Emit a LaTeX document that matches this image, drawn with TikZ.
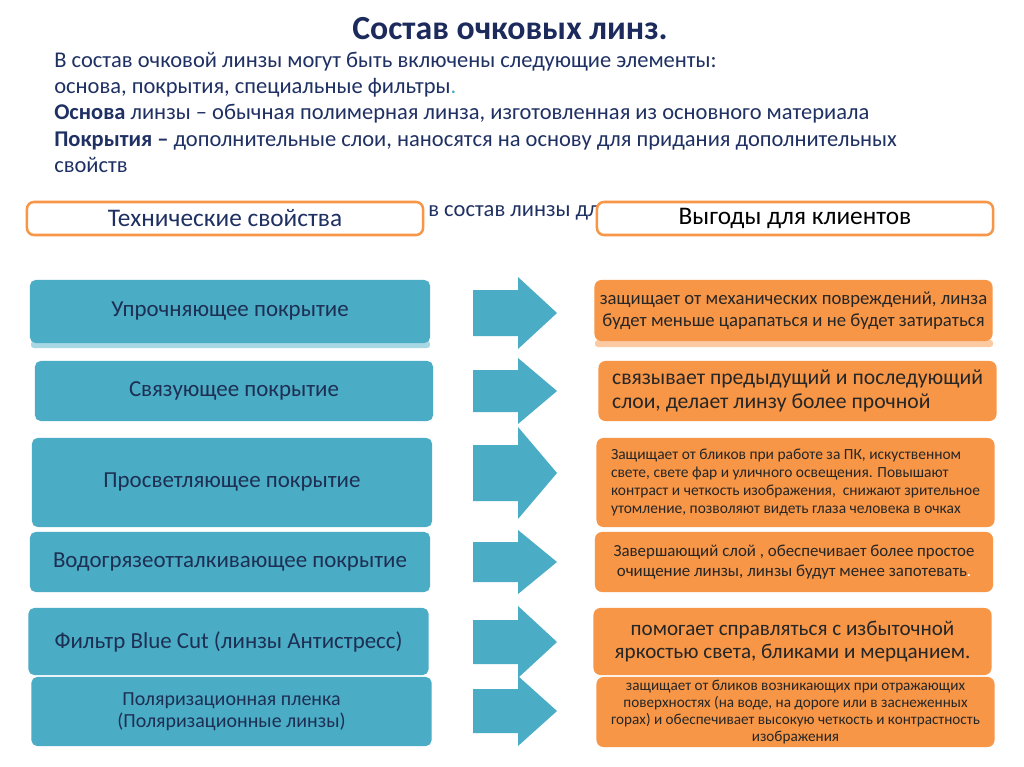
\documentclass[tikz,border=0pt]{standalone}
\usepackage{fontspec}
\setmainfont{Carlito}
\usetikzlibrary{positioning}
\definecolor{lensblue}{HTML}{4BACC6}
\definecolor{lensblueLt}{HTML}{A9D8E5}
\definecolor{lensorange}{HTML}{F79646}
\definecolor{lensorangeLt}{HTML}{FBC9A2}
\definecolor{titlenavy}{HTML}{1C2A5C}
\definecolor{textnavy}{HTML}{1F3063}
\definecolor{boxnavy}{HTML}{1D2F52}
\definecolor{gaintext}{HTML}{262626}
\newcommand{\fs}[2]{\fontsize{#1}{#2}\selectfont}

\begin{document}
\begin{tikzpicture}[
  x=0.025cm,y=-0.025cm,
  tech/.style={fill=lensblue,rounded corners=4pt,inner sep=2pt,align=center,
    text=boxnavy,minimum width=10cm,font=\fs{16.3}{19}},
  gain/.style={fill=lensorange,rounded corners=5pt,inner sep=2pt,align=center,
    text=gaintext,minimum width=9.95cm},
  hdr/.style={draw=lensorange,line width=1.8pt,fill=white,rounded corners=5pt,
    minimum width=9.9cm,minimum height=0.825cm,font=\fs{18}{20}},
  line/.style={anchor=base west,inner sep=0pt,text=textnavy,font=\fs{16}{18}}
]
\useasboundingbox[fill=white] (0,0) rectangle (1024,767);
%% --- title and intro text ---
\node[font=\bfseries\fs{24}{27},text=titlenavy] (title) at (510,29) {Состав очковых линз.};
\node[line] (l1) at (54,68) {В состав очковой линзы могут быть включены следующие элементы:};
\node[line] (l2) at (54,94) {основа, покрытия, специальные фильтры{\color{lensblue}.}};
\node[line] (l3) at (54,120) {\textbf{Основа} линзы – обычная полимерная линза, изготовленная из основного материала};
\node[line] (l4) at (54,147) {\textbf{Покрытия –} дополнительные слои, наносятся на основу для придания дополнительных};
\node[line] (l5) at (54,173) {свойств};
\node[line] (l6) at (428,217) {в состав линзы дл};
%% --- column headers ---
\node[hdr,text=textnavy] (htech) at (225,218.5) {Технические свойства};
\node[hdr,text=black] (hgain) at (795,218.5) {Выгоды для клиентов};
%% --- thin edges under the first row ---
\fill[lensblueLt,rounded corners=2pt] (31,341) rectangle (430,348);
\fill[lensorangeLt,rounded corners=2pt] (595,340) rectangle (993,347);
%% --- left column: coatings ---
\node[tech,minimum height=1.575cm] (t1) at (230,311.5) {Упрочняющее покрытие};
\node[tech,minimum width=9.95cm,minimum height=1.5cm] (t2) at (234,391) {Связующее покрытие};
\node[tech,minimum height=2.225cm] (t3) at (232,482.5) {Просветляющее покрытие};
\node[tech,minimum height=1.5cm] (t4) at (230,562) {Водогрязеотталкивающее покрытие};
\node[tech,minimum height=1.675cm] (t5) at (228.5,641.5) {Фильтр Blue Cut (линзы Антистресс)};
\node[tech,minimum height=1.725cm,font=\fs{14.2}{16}] (t6) at (231.5,711.5)
  {Поляризационная пленка\\(Поляризационные линзы)};
%% --- block arrows ---
\foreach \yc/\hb/\hh in {313/23/36,391/21/33,473/28/46,562/20/32,642/22/36,711/22/35}
  \fill[lensblue] (473,{\yc-\hb}) -- (518,{\yc-\hb}) -- (518,{\yc-\hh}) -- (557,\yc)
    -- (518,{\yc+\hh}) -- (518,{\yc+\hb}) -- (473,{\yc+\hb}) -- cycle;
%% --- right column: benefits ---
\node[gain,minimum height=1.525cm,font=\fs{13.3}{15.6}] (g1) at (793.5,310.5)
  {защищает от механических повреждений, линза\\будет меньше царапаться и не будет затираться};
\node[gain,minimum height=1.5cm,align=left,font=\fs{15.4}{16.5}] (g2) at (797.5,391)
  { связывает предыдущий и последующий\\слои, делает линзу более прочной};
\node[gain,minimum height=2.225cm,align=left,font=\fs{11}{12.6}] (g3) at (795.5,482.5)
  {Защищает от бликов при работе за ПК, искуственном\\свете, свете фар и уличного освещения. Повышают\\контраст и четкость изображения,\ \ снижают зрительное\\утомление, позволяют видеть глаза человека в очках};
\node[gain,minimum height=1.5cm,font=\fs{12}{14.2}] (g4) at (794,562)
  {Завершающий слой , обеспечивает более простое\\очищение линзы, линзы будут менее запотевать{\color{white}.}};
\node[gain,minimum height=1.675cm,font=\fs{15}{17}] (g5) at (792.5,641.5)
  {помогает справляться с избыточной\\яркостью света, бликами и мерцанием.};
\node[gain,minimum height=1.75cm,font=\fs{10.8}{12}] (g6) at (795.5,712)
  {защищает от бликов возникающих при отражающих\\поверхностях (на воде, на дороге или в заснеженных\\горах) и обеспечивает высокую четкость и контрастность\\изображения};
\end{tikzpicture}
\end{document}
